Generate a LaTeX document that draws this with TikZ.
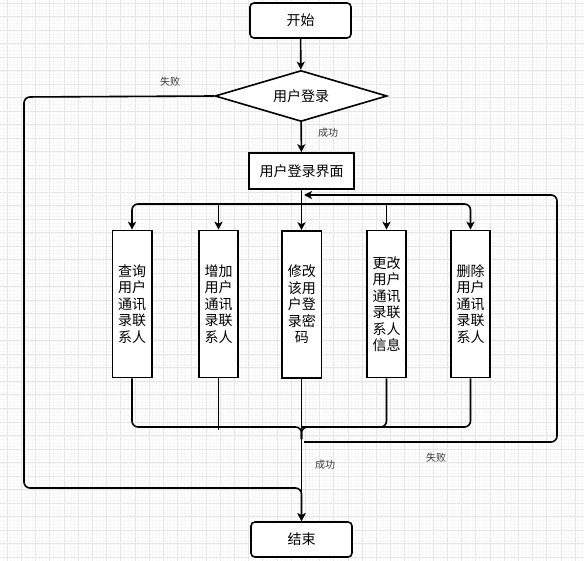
\documentclass[tikz,border=0pt]{standalone}
\usepackage{fontspec}
\setmainfont{Noto Sans CJK SC}
\usetikzlibrary{arrows.meta,positioning,calc,shapes.geometric}
\definecolor{gridgray}{RGB}{230,230,230}
\definecolor{gridfaint}{RGB}{247,247,247}
\definecolor{labelgray}{RGB}{60,60,60}

\begin{document}
\begin{tikzpicture}[
  x=1pt,y=-1pt,
  term/.style={draw,line width=1.6pt,rounded corners=4pt,fill=white,
    minimum width=101pt,minimum height=35pt,font=\fontsize{14}{16}\selectfont},
  proc/.style={draw,line width=1.6pt,fill=white,
    minimum width=105pt,minimum height=36pt,font=\fontsize{14}{16}\selectfont},
  decide/.style={draw,line width=1.6pt,fill=white,diamond,aspect=3.37,inner sep=0pt,
    minimum width=172pt,minimum height=51pt,font=\fontsize{14}{16}\selectfont},
  opbox/.style={draw,line width=1.6pt,fill=white,minimum width=39.4pt,minimum height=147pt,
    inner sep=0pt,align=center,font=\fontsize{14}{16.5}\selectfont},
  lbl/.style={text=labelgray,font=\fontsize{10}{12}\selectfont},
  wire/.style={line width=1.6pt},
  arr/.style={-{Stealth[length=8pt,width=8pt,inset=2pt]},line width=1.6pt},
  gridline/.style={draw=gridgray,line width=0.6pt},
  gridminor/.style={draw=gridfaint,line width=0.4pt}
]
\useasboundingbox (0,0) rectangle (584,561);
\fill[white] (0,0) rectangle (584,561);
% background grid
\foreach \gx in {0,...,166} \draw[gridminor] ({3.45+3.55*\gx},0) -- ++(0,561);
\foreach \gy in {0,...,166} \draw[gridminor] (0,{3.3+3.38*\gy}) -- ++(584,0);
\foreach \gx in {0,...,41} \draw[gridline] ({7+14.2*\gx},0) -- ++(0,561);
\foreach \gy in {0,...,41} \draw[gridline] (0,{3.3+13.5*\gy}) -- ++(584,0);

\node[term] (start) at (300.5,20.5) {开始};
\node[decide] (login) at (301,96) {用户登录};
\node[proc] (ui) at (301.5,171) {用户登录界面};
\node[opbox] (query) at (132,304) {查询\\用户\\通讯\\录联\\系人};
\node[opbox] (add) at (218.5,304) {增加\\用户\\通讯\\录联\\系人};
\node[opbox] (pwd) at (301.8,304.5) {修改\\该用\\户登\\录密\\码};
\node[opbox] (upd) at (386.5,304) {更改\\用户\\通讯\\录联\\系人\\信息};
\node[opbox] (del) at (470.5,304) {删除\\用户\\通讯\\录联\\系人};
\node[term] (stop) at (301.5,539.5) {结束};

\coordinate (failL) at (24,97);
\coordinate (failB) at (24,488);
\coordinate (split) at (301.5,204);
\coordinate (joinA) at (301.5,427);
\coordinate (backS) at (304,442);
\coordinate (backR) at (557,442);
\coordinate (backT) at (557,195);
\coordinate (backIn) at (304,195);

\draw[arr] (start) -- (login);
\draw[arr] (login) -- (ui);
\node[lbl] at (328,133) {成功};
\draw[arr,rounded corners=6pt] (login.west) -- (failL) -- (failB) -- (stop.north |- failB) -- (stop.north);
\node[lbl] at (170,82) {失败};

% fan out to the five operations
\draw[arr] (ui) -- (ui |- pwd.north);
\draw[arr,rounded corners=6pt] (split) -| (query.north);
\draw[arr,rounded corners=6pt] (split) -| (del.north);
\draw[arr] (add.north |- split) -- (add.north);
\draw[arr] (upd.north |- split) -- (upd.north);

% collect the results
\draw[wire,rounded corners=6pt] (query.south) |- (joinA) -- ++(0,12);
\draw[wire,rounded corners=6pt] (del.south) |- (joinA) -- ++(0,12);
\draw[wire,rounded corners=6pt] (upd.south) |- (joinA);
\draw[wire] (add.south) -- ++(0,52);
\draw[arr] (ui |- pwd.south) -- (stop);
\node[lbl] at (325,465) {成功};

% back to the menu
\draw[arr,rounded corners=6pt] (backS) -- (backR) -- (backT) -- (backIn);
\node[lbl] at (436,458) {失败};
\end{tikzpicture}
\end{document}
